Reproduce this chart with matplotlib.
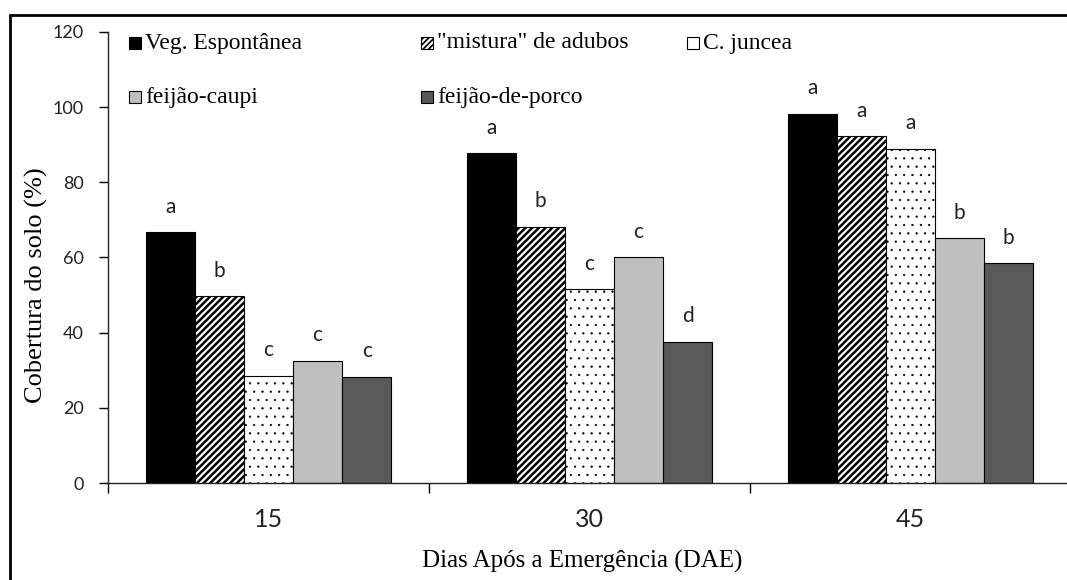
import numpy as np
import matplotlib.pyplot as plt
from matplotlib.patches import Rectangle

# Soil cover (%) by days after emergence, one list per cover crop
days = ['15', '30', '45']
veg_espontanea = [66.7, 87.7, 98.2]
mistura_adubos = [49.7, 68.2, 92.2]
c_juncea = [28.6, 51.5, 89.0]
feijao_caupi = [32.5, 60.0, 65.1]
feijao_porco = [28.3, 37.6, 58.5]

# Tukey letters shown above the bars
letras_veg = ['a', 'a', 'a']
letras_mistura = ['b', 'b', 'a']
letras_juncea = ['c', 'c', 'a']
letras_caupi = ['c', 'c', 'b']
letras_porco = ['c', 'd', 'b']

nomes = ['Veg. Espontânea', '"mistura" de adubos', 'C. juncea',
         'feijão-caupi', 'feijão-de-porco']
valores = [veg_espontanea, mistura_adubos, c_juncea, feijao_caupi, feijao_porco]
letras = [letras_veg, letras_mistura, letras_juncea, letras_caupi, letras_porco]

cores = ['black', 'white', 'white', '#bfbfbf', '#595959']
hachuras = [None, '/////', '..', None, None]
hatch_lw = [1.0, 1.8, 0.4, 1.0, 1.0]

serif = ['Liberation Serif', 'DejaVu Serif']
sans = ['Lato', 'DejaVu Sans']

W, H = 1067, 580
fig = plt.figure(figsize=(W / 100, H / 100), dpi=100)
ax = fig.add_axes([108 / W, 97 / H, 963 / W, 451 / H])

x = np.arange(len(days))
largura = 0.153
for i, (vals, cor, hatch) in enumerate(zip(valores, cores, hachuras)):
    pos = x + (i - 2) * largura
    with plt.rc_context({'hatch.linewidth': hatch_lw[i]}):
        bars = ax.bar(pos, vals, largura, color=cor, edgecolor='black',
                      linewidth=0.8, hatch=hatch, zorder=2)
    for b in bars:
        if hasattr(b, 'set_hatch_linewidth'):
            b.set_hatch_linewidth(hatch_lw[i])
    for xp, v, letra in zip(pos, vals, letras[i]):
        ax.annotate(letra, (xp, v), xytext=(0, 14), textcoords='offset points',
                    ha='center', va='baseline', fontsize=15, family=sans,
                    color='#222222')

ax.set_xlim(-0.5, 2.5)
ax.set_ylim(0, 120)
ax.set_yticks(np.arange(0, 121, 20))
ax.set_xticks([-0.5, 0.5, 1.5, 2.5])
ax.set_xticklabels([])
ax.set_xticks(x, minor=True)
ax.set_xticklabels(days, minor=True)
ax.tick_params(axis='x', which='major', length=7, width=1, direction='out')
ax.tick_params(axis='x', which='minor', length=0, pad=18, labelsize=18)
ax.tick_params(axis='y', length=6.5, width=1, direction='out', pad=11, labelsize=13)
for lab in ax.get_xticklabels(minor=True) + ax.get_yticklabels():
    lab.set_family(sans)
    lab.set_color('#222222')
for s in ['top', 'right']:
    ax.spines[s].set_visible(False)
for s in ['left', 'bottom']:
    ax.spines[s].set_linewidth(1)
    ax.spines[s].set_color('#222222')

fig.text(36 / W, 1 - 285 / H, 'Cobertura do solo (%)', rotation=90,
         ha='center', va='center', fontsize=19, family=serif)
fig.text(582 / W, 1 - 561 / H, 'Dias Após a Emergência (DAE)',
         ha='center', va='center', fontsize=18, family=serif)

# legend laid out row by row, three columns
leg_x = [129, 421, 687, 129, 421]
leg_y = [43, 43, 43, 97, 97]
lado = 12
for nome, cor, hatch, lx, ly in zip(nomes, cores, hachuras, leg_x, leg_y):
    with plt.rc_context({'hatch.linewidth': 1.2}):
        fig.add_artist(Rectangle((lx / W, 1 - (ly + lado / 2) / H), lado / W, lado / H,
                                 transform=fig.transFigure, facecolor=cor,
                                 edgecolor='black', linewidth=0.8,
                                 hatch='//////' if hatch == '/////' else None))
    fig.text((lx + lado + 4) / W, 1 - ly / H, nome, ha='left', va='center',
             fontsize=17, family=serif)

# outer frame
fig.add_artist(Rectangle((10 / W, -0.05), 1.2, 1 - 14.5 / H + 0.05,
                         transform=fig.transFigure, fill=False,
                         edgecolor='black', linewidth=2))

fig.savefig('out.png', dpi=100)
